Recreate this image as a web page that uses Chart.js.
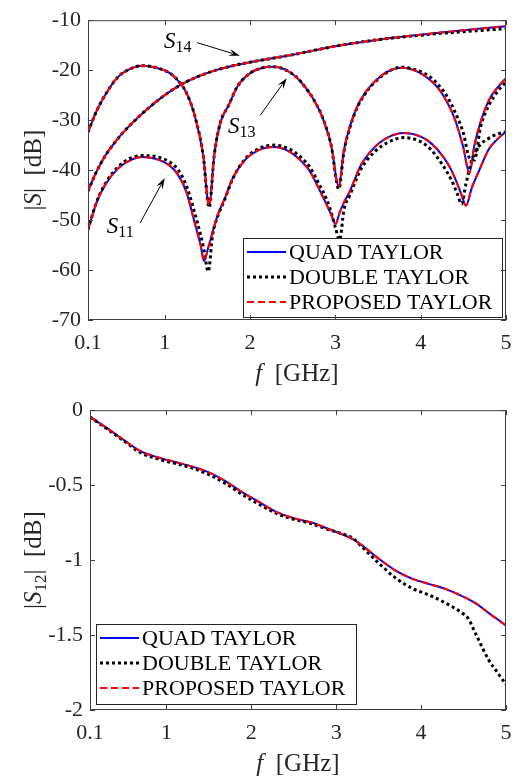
<!DOCTYPE html>
<html>
<head>
<meta charset="utf-8">
<script src="https://cdn.jsdelivr.net/npm/chart.js@4.4.0/dist/chart.umd.min.js"></script>
<style>
  body { margin: 0; background: #fff; }
  .box { position: absolute; left: 0; width: 525px; height: 390px; }
</style>
</head>
<body>
<div class="box" style="top:0"><canvas id="topChart" width="525" height="390"></canvas></div>
<div class="box" style="top:390px"><canvas id="bottomChart" width="525" height="390"></canvas></div>
<script>
// ---- data ----
const methods = ['QUAD TAYLOR', 'DOUBLE TAYLOR', 'PROPOSED TAYLOR'];
const xTicks = [0.1, 1, 2, 3, 4, 5];
const topYTicks = [-70, -60, -50, -40, -30, -20, -10];
const bottomYTicks = [-2, -1.5, -1, -0.5, 0];

// |S11|
const s11Freq = [0.1, 0.2, 0.3, 0.45, 0.6, 0.73, 0.9, 1.05, 1.15, 1.25, 1.35, 1.42, 1.46, 1.51, 1.56, 1.62, 1.7, 1.8, 1.95, 2.1,
  2.28, 2.45, 2.6, 2.7, 2.8, 2.9, 2.96, 3.0, 3.05, 3.1, 3.17, 3.3, 3.45, 3.6, 3.8, 4.0, 4.12, 4.25, 4.36, 4.43,
  4.48, 4.53, 4.6, 4.68, 4.8, 4.9, 5.0];
const s11Quad = [-51.9, -46.5, -43.0, -39.7, -38.0, -37.4, -37.8, -39.0, -40.8, -44.2, -50.5, -55.0, -58.2, -55.5, -52.5, -49.0, -45.8, -41.5, -37.8, -36.0,
  -35.4, -36.2, -38.2, -40.2, -43.5, -47.0, -49.3, -50.8, -48.5, -46.5, -44.2, -39.0, -35.6, -33.6, -32.6, -33.3, -34.6, -37.0, -40.0, -42.8,
  -45.0, -47.1, -43.5, -40.3, -35.8, -33.8, -32.3];
const s11Double = [-51.9, -46.4, -42.8, -39.4, -37.6, -37.1, -37.3, -38.3, -39.8, -43.0, -48.5, -53.0, -56.0, -60.3, -53.0, -49.3, -46.0, -41.6, -37.6, -35.7,
  -35.0, -35.7, -37.5, -39.4, -42.5, -46.0, -49.0, -51.5, -54.0, -48.0, -45.0, -39.8, -36.5, -34.6, -33.5, -34.3, -35.9, -38.8, -42.0, -44.8,
  -46.8, -42.8, -38.0, -35.3, -33.6, -32.8, -32.3];
const s11Proposed = [...s11Quad]; // red dashes sit right on the blue line

// |S13|
const s13Freq = [0.1, 0.2, 0.3, 0.45, 0.6, 0.73, 0.9, 1.05, 1.15, 1.25, 1.35, 1.45, 1.52, 1.58, 1.65, 1.75, 1.85, 2.0, 2.15, 2.27,
  2.4, 2.55, 2.65, 2.75, 2.85, 2.95, 3.04, 3.1, 3.17, 3.25, 3.35, 3.45, 3.6, 3.78, 3.95, 4.1, 4.2, 4.3, 4.4, 4.5,
  4.57, 4.63, 4.7, 4.8, 4.9, 5.0];
const s13Quad = [-32.4, -28.2, -25.0, -21.4, -19.7, -19.1, -19.5, -20.5, -22.0, -24.4, -29.0, -37.0, -47.1, -37.0, -30.6, -27.0, -23.3, -20.6, -19.5, -19.3,
  -19.8, -21.5, -23.5, -26.0, -29.5, -35.0, -43.2, -36.0, -31.3, -27.5, -24.5, -22.5, -20.4, -19.5, -20.2, -21.8, -23.5, -26.1, -29.8, -35.5,
  -40.6, -35.0, -30.5, -26.0, -23.5, -21.6];
const s13Double = [-32.4, -28.2, -25.0, -21.4, -19.7, -19.1, -19.5, -20.5, -22.0, -24.4, -29.0, -37.0, -47.5, -37.0, -30.6, -27.0, -23.3, -20.6, -19.5, -19.3,
  -19.8, -21.5, -23.5, -26.0, -29.5, -35.0, -43.8, -36.3, -31.5, -27.7, -24.7, -22.6, -20.5, -19.4, -20.0, -21.2, -22.8, -25.0, -28.3, -32.6,
  -37.5, -38.0, -31.5, -27.0, -24.3, -22.4];
const s13Proposed = [...s13Quad];

// |S14|
const s14Freq = [0.1, 0.2, 0.3, 0.45, 0.6, 0.8, 1.0, 1.2, 1.4, 1.6, 1.8, 2.0, 2.5, 3.0, 3.5, 4.0, 4.5, 5.0];
const s14Quad = [-44.2, -40.3, -37.2, -33.7, -30.9, -27.7, -25.0, -22.8, -21.2, -20.0, -19.1, -18.4, -16.9, -15.2, -13.9, -12.9, -12.0, -11.2];
const s14Double = [-44.2, -40.3, -37.2, -33.7, -30.9, -27.7, -25.0, -22.8, -21.2, -20.0, -19.1, -18.4, -16.9, -15.2, -13.9, -13.0, -12.3, -11.7];
const s14Proposed = [...s14Quad];

// |S12|
const s12Freq = [0.1, 0.3, 0.5, 0.7, 0.9, 1.1, 1.3, 1.5, 1.7, 1.9, 2.1, 2.3, 2.5, 2.7, 2.9, 3.1, 3.2, 3.3, 3.5, 3.7, 3.9, 4.1, 4.3, 4.5, 4.55, 4.65, 4.8, 4.9, 5.0];
const s12Quad = [-0.045, -0.12, -0.2, -0.275, -0.315, -0.345, -0.375, -0.415, -0.475, -0.55, -0.615, -0.68, -0.72, -0.748, -0.79, -0.835, -0.862, -0.9, -0.99, -1.07,
  -1.125, -1.16, -1.195, -1.245, -1.258, -1.29, -1.355, -1.395, -1.437];
const s12Double = [-0.045, -0.125, -0.205, -0.285, -0.325, -0.355, -0.385, -0.43, -0.49, -0.565, -0.63, -0.69, -0.728, -0.755, -0.795, -0.83, -0.855, -0.91, -1.02, -1.12,
  -1.19, -1.235, -1.29, -1.36, -1.385, -1.5, -1.67, -1.75, -1.83];
const s12Proposed = [...s12Quad];

// ---- styling ----
Chart.defaults.font.family = 'Liberation Serif';
Chart.defaults.color = '#262626';
const FONT = 'Liberation Serif';

const styles = [
  { borderColor: '#0000ff', borderWidth: 2, borderDash: [], order: 3 },
  { borderColor: '#000000', borderWidth: 3, borderDash: [3, 3], order: 2 },
  { borderColor: '#ff0000', borderWidth: 2, borderDash: [7, 4], order: 1 }
];

function series(freq, vals, m) {
  return {
    label: methods[m],
    data: freq.map((f, i) => ({ x: f, y: vals[i] })),
    ...styles[m],
    pointRadius: 0,
    fill: false,
    cubicInterpolationMode: 'monotone'
  };
}

function richText(ctx, parts, x, y, angle) {
  ctx.save();
  ctx.translate(x, y);
  ctx.rotate(angle);
  let w = 0;
  parts.forEach(p => { ctx.font = p.font; p.w = ctx.measureText(p.t).width; w += p.w; });
  let xx = -w / 2;
  ctx.textBaseline = 'alphabetic';
  ctx.fillStyle = '#262626';
  parts.forEach(p => { ctx.font = p.font; ctx.fillText(p.t, xx, p.dy || 0); xx += p.w; });
  ctx.restore();
}

// box, inner ticks, legend, arrows and axis titles
const decor = {
  id: 'decor',
  afterDraw(chart) {
    const { ctx, chartArea: a, scales: { x, y } } = chart;
    const o = chart.options.plugins.decor;
    ctx.save();

    // legend
    const L = o.legend;
    ctx.fillStyle = '#fff';
    ctx.fillRect(L.x, L.y, L.w, L.h);
    ctx.strokeStyle = '#262626';
    ctx.lineWidth = 1;
    ctx.strokeRect(L.x + 0.5, L.y + 0.5, L.w, L.h);
    methods.forEach((name, i) => {
      const cy = L.y + 14 + i * 25;
      ctx.beginPath();
      ctx.strokeStyle = styles[i].borderColor;
      ctx.lineWidth = styles[i].borderWidth;
      ctx.setLineDash(styles[i].borderDash);
      ctx.moveTo(L.x + 4, cy);
      ctx.lineTo(L.x + 43, cy);
      ctx.stroke();
      ctx.setLineDash([]);
      ctx.fillStyle = '#000';
      ctx.font = '22px ' + FONT;
      ctx.textBaseline = 'middle';
      ctx.fillText(name, L.x + 46, cy + 1);
    });

    // arrows with labels
    (o.notes || []).forEach(n => {
      const x0 = x.getPixelForValue(n.tail[0]), y0 = y.getPixelForValue(n.tail[1]);
      const x1 = x.getPixelForValue(n.head[0]), y1 = y.getPixelForValue(n.head[1]);
      const ang = Math.atan2(y1 - y0, x1 - x0);
      const c = Math.cos(ang), s = Math.sin(ang);
      ctx.strokeStyle = '#000';
      ctx.fillStyle = '#000';
      ctx.lineWidth = 1;
      ctx.beginPath();
      ctx.moveTo(x0, y0);
      ctx.lineTo(x1 - 8 * c, y1 - 8 * s);
      ctx.stroke();
      ctx.beginPath();
      ctx.moveTo(x1, y1);
      ctx.lineTo(x1 - 11 * c + 3.5 * s, y1 - 11 * s - 3.5 * c);
      ctx.lineTo(x1 - 7 * c, y1 - 7 * s);
      ctx.lineTo(x1 - 11 * c - 3.5 * s, y1 - 11 * s + 3.5 * c);
      ctx.closePath();
      ctx.fill();
      const tx = x.getPixelForValue(n.at[0]), ty = y.getPixelForValue(n.at[1]);
      ctx.textBaseline = 'alphabetic';
      ctx.font = 'italic 23px ' + FONT;
      ctx.fillText('S', tx, ty);
      const sw = ctx.measureText('S').width;
      ctx.font = '16px ' + FONT;
      ctx.fillText(n.sub, tx + sw, ty + 4);
    });

    // frame and inward ticks
    ctx.strokeStyle = '#404040';
    ctx.lineWidth = 1;
    ctx.strokeRect(a.left + 0.5, a.top + 0.5, a.right - a.left - 1, a.bottom - a.top - 1);
    ctx.beginPath();
    xTicks.forEach(v => {
      const px = Math.round(x.getPixelForValue(v)) + 0.5;
      ctx.moveTo(px, a.bottom); ctx.lineTo(px, a.bottom - 5);
      ctx.moveTo(px, a.top); ctx.lineTo(px, a.top + 5);
    });
    o.yTicks.forEach(v => {
      const py = Math.round(y.getPixelForValue(v)) + 0.5;
      ctx.moveTo(a.left, py); ctx.lineTo(a.left + 5, py);
      ctx.moveTo(a.right, py); ctx.lineTo(a.right - 5, py);
    });
    ctx.stroke();

    // axis titles
    const it = 'italic 25px ' + FONT, rm = '25px ' + FONT;
    richText(ctx, [{ t: 'f', font: it }, { t: '  [GHz]', font: rm }], (a.left + a.right) / 2, a.bottom + 61, 0);
    const yParts = o.sub
      ? [{ t: '|', font: rm }, { t: 'S', font: it }, { t: o.sub, font: '17px ' + FONT, dy: 5 }, { t: '|  [dB]', font: rm }]
      : [{ t: '|', font: rm }, { t: 'S', font: it }, { t: '|  [dB]', font: rm }];
    richText(ctx, yParts, 41, (a.top + a.bottom) / 2, -Math.PI / 2);
    ctx.restore();
  }
};

function makeOptions(cfg) {
  return {
    responsive: false,
    animation: false,
    layout: { padding: { top: cfg.padTop, right: 19, left: 0, bottom: 0 } },
    plugins: {
      legend: { display: false },
      tooltip: { enabled: false },
      decor: cfg.decor
    },
    scales: {
      x: {
        type: 'linear',
        min: 0.1,
        max: 5,
        afterBuildTicks: s => { s.ticks = xTicks.map(v => ({ value: v })); },
        afterFit: s => { s.height = 70; },
        grid: { display: false, drawTicks: false },
        border: { display: false },
        ticks: { autoSkip: false, maxRotation: 0, padding: 10, font: { size: 22 }, color: '#262626', callback: v => String(v) }
      },
      y: {
        min: cfg.yMin,
        max: cfg.yMax,
        afterBuildTicks: s => { s.ticks = cfg.yTicks.map(v => ({ value: v })); },
        afterFit: s => { s.width = cfg.yWidth; },
        grid: { display: false, drawTicks: false },
        border: { display: false },
        ticks: { autoSkip: false, padding: 7, font: { size: 22 }, color: '#262626', callback: v => String(v) }
      }
    }
  };
}

new Chart(document.getElementById('topChart'), {
  type: 'line',
  data: {
    datasets: [
      series(s11Freq, s11Quad, 0), series(s11Freq, s11Double, 1), series(s11Freq, s11Proposed, 2),
      series(s13Freq, s13Quad, 0), series(s13Freq, s13Double, 1), series(s13Freq, s13Proposed, 2),
      series(s14Freq, s14Quad, 0), series(s14Freq, s14Double, 1), series(s14Freq, s14Proposed, 2)
    ]
  },
  options: makeOptions({
    padTop: 10, yMin: -70, yMax: -10, yTicks: topYTicks, yWidth: 88,
    decor: {
      yTicks: topYTicks,
      legend: { x: 243, y: 238, w: 259, h: 79 },
      notes: [
        { sub: '14', at: [0.99, -15.5], tail: [1.38, -14.5], head: [1.88, -17.1] },
        { sub: '13', at: [1.74, -32.6], tail: [2.12, -29.0], head: [2.43, -21.6] },
        { sub: '11', at: [0.32, -52.6], tail: [0.71, -50.6], head: [1.0, -41.6] }
      ]
    }
  }),
  plugins: [decor]
});

new Chart(document.getElementById('bottomChart'), {
  type: 'line',
  data: {
    datasets: [series(s12Freq, s12Quad, 0), series(s12Freq, s12Double, 1), series(s12Freq, s12Proposed, 2)]
  },
  options: makeOptions({
    padTop: 6, yMin: -2, yMax: 0, yTicks: bottomYTicks, yWidth: 90,
    decor: {
      yTicks: bottomYTicks,
      sub: '12',
      legend: { x: 96, y: 234, w: 260, h: 80 }
    }
  }),
  plugins: [decor]
});
</script>
</body>
</html>
